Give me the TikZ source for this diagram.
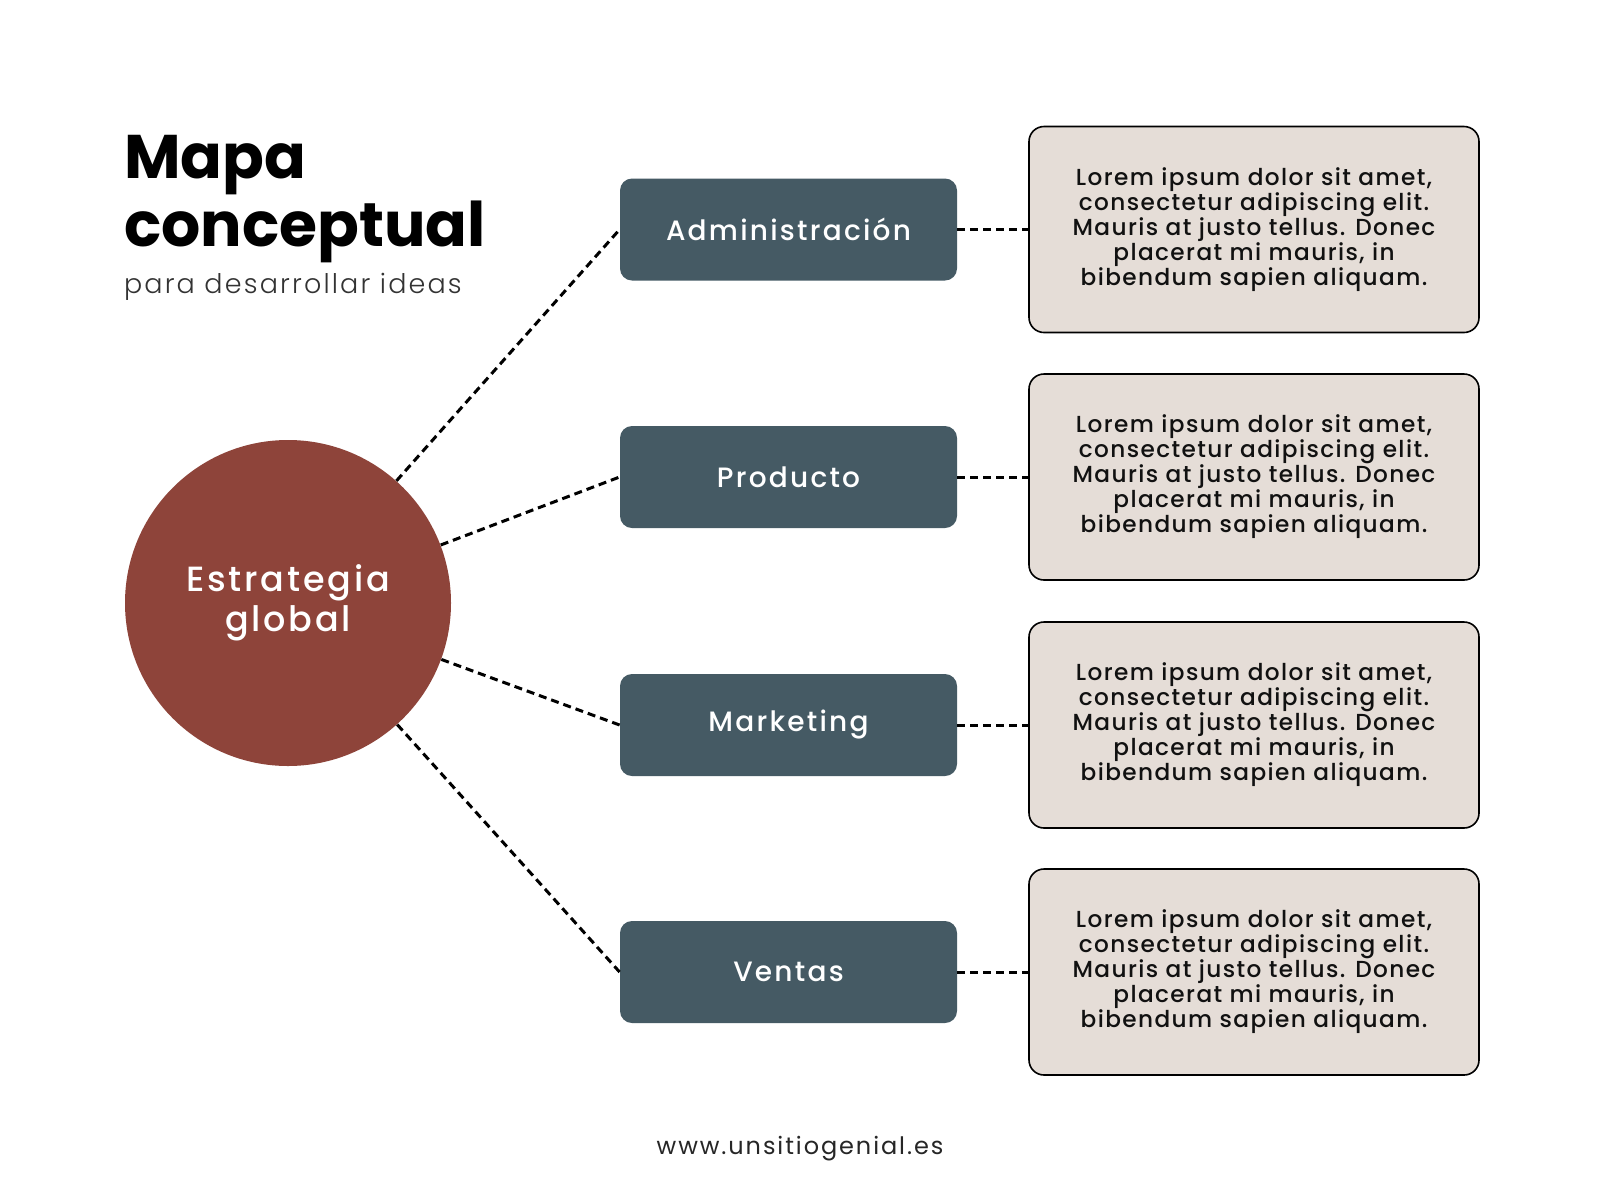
\documentclass[tikz,border=0pt]{standalone}
\usepackage{fontspec}
\setmainfont{Poppins}
\newfontfamily\titlefont{Poppins Bold}
\newfontfamily\lightfont{Poppins Light}[LetterSpace=8]
\newfontfamily\notefont{Poppins Medium}[LetterSpace=6]
\newfontfamily\labelfont{Poppins Medium}[LetterSpace=8]
\newfontfamily\webfont{Poppins}[LetterSpace=8]
\definecolor{hubred}{HTML}{8E443A}
\definecolor{slate}{HTML}{455A64}
\definecolor{beige}{HTML}{E5DDD7}
\definecolor{inkc}{HTML}{111111}
\begin{document}
\begin{tikzpicture}[x=0.5pt,y=-0.5pt,
  hub/.style={circle,fill=hubred,minimum size=163pt,inner sep=0pt,text=white,align=center,
    font=\labelfont\fontsize{17.5}{20}\selectfont},
  topic/.style={rectangle,rounded corners=6pt,fill=slate,minimum width=168.5pt,minimum height=51pt,
    inner sep=0pt,text=white,font=\labelfont\fontsize{14}{16}\selectfont},
  note/.style={rectangle,rounded corners=7.5pt,fill=beige,draw=black,line width=0.8pt,
    minimum width=225pt,minimum height=103pt,inner sep=0pt,align=center,text=inkc,
    font=\notefont\fontsize{11.6}{12.5}\selectfont},
  link/.style={draw=black,line width=1.5pt,dash pattern=on 4pt off 2.5pt},
  plain/.style={inner sep=0pt,outer sep=0pt}
]
\fill[white] (0,0) rectangle (1600,1200);
\useasboundingbox (0,0) rectangle (1600,1200);

\node[plain,anchor=base west,font=\titlefont\fontsize{30.8}{34}\selectfont] (t1) at (124,178) {Mapa};
\node[plain,anchor=base west,font=\titlefont\fontsize{30.8}{34}\selectfont] (t2) at (124,246) {conceptual};
\node[plain,anchor=base west,text=black!80,font=\lightfont\fontsize{13.5}{15}\selectfont] (t3) at (124,293) {para desarrollar ideas};

\node[hub] (hub) at (288,603) {Estrategia\\global};

\node[topic] (a) at (788.5,229.5) {Administración};
\node[topic] (p) at (788.5,477) {Producto};
\node[topic] (m) at (788.5,725) {Marketing};
\node[topic] (v) at (788.5,972) {Ventas};

\node[note] (na) at (1254,229.5) {Lorem ipsum dolor sit amet,\\consectetur adipiscing elit.\\Mauris at justo tellus. Donec\\placerat mi mauris, in\\bibendum sapien aliquam.};
\node[note] (np) at (1254,477) {Lorem ipsum dolor sit amet,\\consectetur adipiscing elit.\\Mauris at justo tellus. Donec\\placerat mi mauris, in\\bibendum sapien aliquam.};
\node[note] (nm) at (1254,725) {Lorem ipsum dolor sit amet,\\consectetur adipiscing elit.\\Mauris at justo tellus. Donec\\placerat mi mauris, in\\bibendum sapien aliquam.};
\node[note] (nv) at (1254,972) {Lorem ipsum dolor sit amet,\\consectetur adipiscing elit.\\Mauris at justo tellus. Donec\\placerat mi mauris, in\\bibendum sapien aliquam.};

\draw[link] (hub) -- (a.west);
\draw[link] (hub) -- (p.west);
\draw[link] (hub) -- (m.west);
\draw[link] (hub) -- (v.west);
\draw[link] (a.east) -- (na.west);
\draw[link] (p.east) -- (np.west);
\draw[link] (m.east) -- (nm.west);
\draw[link] (v.east) -- (nv.west);

\node[plain,anchor=base,text=black!85,font=\webfont\fontsize{12}{14}\selectfont] (web) at (800,1154) {www.unsitiogenial.es};
\end{tikzpicture}
\end{document}
